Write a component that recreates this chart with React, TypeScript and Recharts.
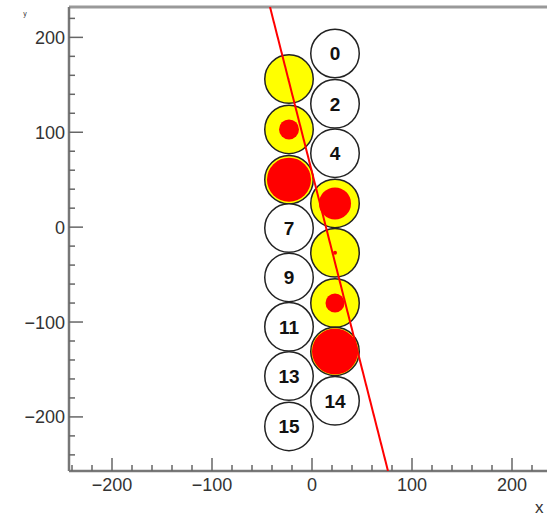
import { ScatterChart, Scatter, XAxis, YAxis, ReferenceLine } from 'recharts'

// tube numbers, centres (mm) and drift radius of the hit tubes (null = no hit)
const TUBE_IDS = [0, 1, 2, 3, 4, 5, 6, 7, 8, 9, 10, 11, 12, 13, 14, 15]
const TUBE_X = [23, -23, 23, -23, 23, -23, 23, -23, 23, -23, 23, -23, 23, -23, 23, -23]
const TUBE_Y = [183, 156, 130, 103, 78, 50, 25, -1, -27, -53, -80, -105, -131, -157, -183, -210]
const DRIFT_R = [null, 0.5, null, 10, null, 22, 16, null, 2, null, 9.5, null, 23, null, null, null]
const TUBE_R = 25

// fitted track
const TRACK_X = [-42, 76]
const TRACK_Y = [232, -257]

const X_TICKS = [
  -240, -220, -200, -180, -160, -140, -120, -100, -80, -60, -40, -20, 0,
  20, 40, 60, 80, 100, 120, 140, 160, 180, 200, 220, 240,
]
const Y_TICKS = [
  -240, -220, -200, -180, -160, -140, -120, -100, -80, -60, -40, -20, 0,
  20, 40, 60, 80, 100, 120, 140, 160, 180, 200, 220,
]

const X_MIN = -243
const X_MAX = 250
const Y_MIN = -257
const Y_MAX = 232

const W = 600
const H = 516
const Y_AXIS_W = 69
const X_AXIS_H = 45
const MARGIN = { top: 7, right: 38, bottom: 0, left: 0 }
const PX_PER_UNIT = (W - Y_AXIS_W - MARGIN.right) / (X_MAX - X_MIN)

const FONT = '"Liberation Sans", Arial, Helvetica, sans-serif'

const tubes = TUBE_IDS.map((id, i) => ({
  id,
  x: TUBE_X[i],
  y: TUBE_Y[i],
  drift: DRIFT_R[i],
}))

const track = TRACK_X.map((x, i) => ({ x, y: TRACK_Y[i] }))

const fmt = (v: number) => String(v).replace('-', '\u2212')

function XTick(props: any) {
  const { x, y, payload } = props
  const v = payload.value
  const major = v % 100 === 0
  return (
    <g>
      <line x1={x} x2={x} y1={y} y2={y - (major ? 13 : 6)} stroke="#666" strokeWidth={1.5} />
      {major && (
        <text x={x} y={y + 20} textAnchor="middle" fontSize={18} fill="#333" fontFamily={FONT}>
          {fmt(v)}
        </text>
      )}
    </g>
  )
}

function YTick(props: any) {
  const { x, y, payload } = props
  const v = payload.value
  const major = v % 100 === 0
  return (
    <g>
      <line x1={x} x2={x + (major ? 14 : 6)} y1={y} y2={y} stroke="#666" strokeWidth={1.5} />
      {major && (
        <text x={x - 4} y={y + 6.5} textAnchor="end" fontSize={18} fill="#333" fontFamily={FONT}>
          {fmt(v)}
        </text>
      )}
    </g>
  )
}

function XTitle(props: any) {
  const vb = props.viewBox
  return (
    <text x={vb.x + vb.width - 27} y={vb.y + 42} fontSize={17} fill="#333" fontFamily={FONT}>
      x
    </text>
  )
}

function YTitle(props: any) {
  const vb = props.viewBox
  return (
    <text x={vb.x + 25} y={vb.y + 9} fontSize={7} fill="#333" textAnchor="middle" fontFamily={FONT}>
      y
    </text>
  )
}

function Tube(props: any) {
  const { cx, cy, payload } = props
  const r = TUBE_R * PX_PER_UNIT
  const hit = payload.drift !== null
  return (
    <g>
      <circle cx={cx} cy={cy} r={r - 0.75} fill={hit ? '#ffff00' : '#ffffff'} stroke="#222" strokeWidth={1.5} />
      {hit && payload.drift > 0 && (
        <circle cx={cx} cy={cy} r={payload.drift * PX_PER_UNIT} fill="#ff0000" />
      )}
      {!hit && (
        <text
          x={cx}
          y={cy + 7}
          textAnchor="middle"
          fontSize={19}
          fontWeight="bold"
          fill="#111"
          fontFamily={FONT}
        >
          {payload.id}
        </text>
      )}
    </g>
  )
}

export default function App() {
  return (
    <div
      style={{
        position: 'fixed',
        left: 0,
        top: 0,
        width: 547,
        height: 516,
        overflow: 'hidden',
        background: '#fff',
      }}
    >
      <ScatterChart width={W} height={H} margin={MARGIN}>
        <XAxis
          type="number"
          dataKey="x"
          domain={[X_MIN, X_MAX]}
          allowDataOverflow
          ticks={X_TICKS}
          interval={0}
          height={X_AXIS_H}
          tickSize={0}
          tickMargin={0}
          tickLine={false}
          tick={<XTick />}
          axisLine={{ stroke: '#777', strokeWidth: 2.5 }}
          label={<XTitle />}
        />
        <YAxis
          type="number"
          dataKey="y"
          domain={[Y_MIN, Y_MAX]}
          allowDataOverflow
          ticks={Y_TICKS}
          interval={0}
          width={Y_AXIS_W}
          tickSize={0}
          tickMargin={0}
          tickLine={false}
          tick={<YTick />}
          axisLine={{ stroke: '#777', strokeWidth: 2.5 }}
          label={<YTitle />}
        />
        <ReferenceLine y={Y_MAX} stroke="#999" strokeWidth={3} />
        <Scatter data={tubes} shape={<Tube />} isAnimationActive={false} />
        <Scatter
          data={track}
          line={{ stroke: '#ff0000', strokeWidth: 2 }}
          shape={() => <g />}
          isAnimationActive={false}
        />
      </ScatterChart>
    </div>
  )
}
